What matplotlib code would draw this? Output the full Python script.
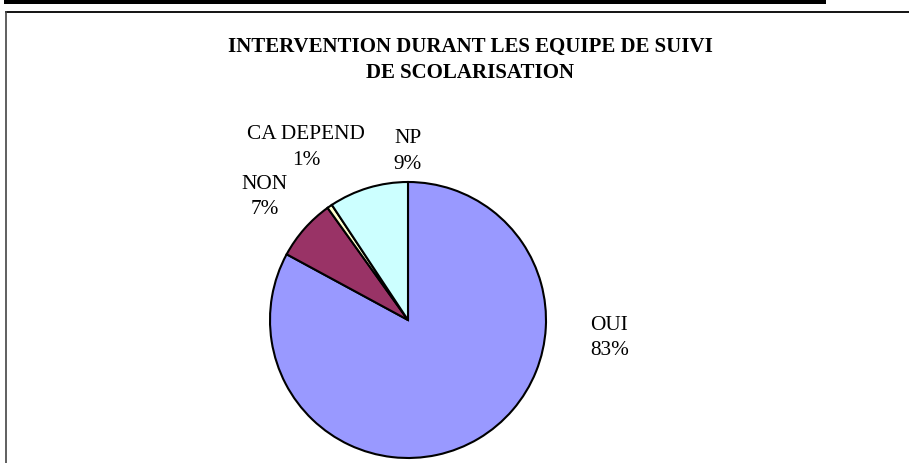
import matplotlib
matplotlib.use("Agg")
import matplotlib.pyplot as plt
from matplotlib.patches import Rectangle
from matplotlib.lines import Line2D

plt.rcParams["font.family"] = ["Liberation Serif", "DejaVu Serif"]

categories = ["OUI", "NON", "CA DEPEND", "NP"]
shares = [82.9, 7.2, 0.6, 9.3]
colors = ["#9999FF", "#993366", "#FFFFCC", "#CCFFFF"]
title = "INTERVENTION DURANT LES EQUIPE DE SUIVI\nDE SCOLARISATION"

W, H = 909, 463
fig = plt.figure(figsize=(W / 100, H / 100), dpi=100)

# frame around the chart area + black rule on top
fig.add_artist(Rectangle((4 / W, (H - 4) / H), 822 / W, 4 / H,
                         transform=fig.transFigure, color="black", lw=0))
fig.add_artist(Line2D([5.5 / W, 1], [(H - 11.5) / H] * 2,
                      transform=fig.transFigure, color="black", lw=1.3))
fig.add_artist(Line2D([5.5 / W] * 2, [0, (H - 11.5) / H],
                      transform=fig.transFigure, color="#444444", lw=1.2))

# pie centred at (408, 320) px with radius 138 px
cx, cy, r = 408, 320, 138
ax = fig.add_axes([(cx - r) / W, (H - cy - r) / H, 2 * r / W, 2 * r / H])
wedges, _ = ax.pie(shares, colors=colors, startangle=90, counterclock=False,
                   wedgeprops=dict(edgecolor="black", linewidth=1.5))
ax.set_xlim(-1, 1)
ax.set_ylim(-1, 1)
ax.set_clip_on(False)

label_pos = {
    "OUI": (1.46, -0.13),
    "NON": (-1.04, 0.89),
    "CA DEPEND": (-0.74, 1.25),
    "NP": (0.0, 1.22),
}
for name, val in zip(categories, shares):
    x, y = label_pos[name]
    ax.text(x, y, f"{name}\n{val:.0f}%", ha="center", va="center",
            fontsize=15.3, linespacing=1.45, clip_on=False)

fig.text(470 / W, (H - 60) / H, title, ha="center", va="center",
         fontsize=15, fontweight="bold", linespacing=1.4)

fig.savefig("out.png", dpi=100)
